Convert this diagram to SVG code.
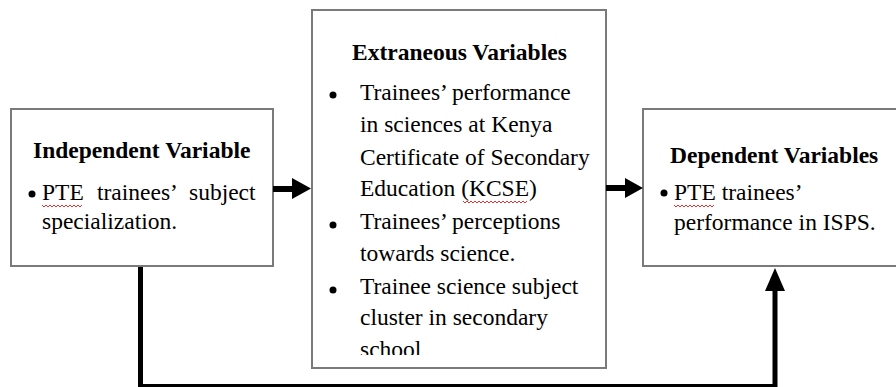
<svg xmlns="http://www.w3.org/2000/svg" width="896" height="387" viewBox="0 0 896 387">
<style>
.box{fill:#fff;stroke:#7a7a7a;stroke-width:2}
.t{font-family:"Liberation Serif","Times New Roman",serif;font-size:23.5px;fill:#000}
.b{font-weight:bold}
.conn{fill:none;stroke:#000;stroke-width:6}
.head{fill:#000}
.sq{fill:none;stroke:#e03030;stroke-width:1}
</style>
<defs>
<clipPath id="midclip"><rect x="312" y="10" width="294" height="345"/></clipPath>
</defs>
<rect x="0" y="0" width="896" height="387" fill="#fff"/>
<g id="independent">
<rect class="box" x="11" y="109" width="262" height="157"/>
<text class="t b" x="33" y="158">Independent Variable</text>
<circle cx="32" cy="194" r="3.5"/>
<text class="t" x="42" y="200">PTE</text>
<text class="t" x="97" y="200">trainees’</text>
<text class="t" x="189" y="200">subject</text>
<text class="t" x="42" y="229">specialization.</text>
<path class="sq" d="M42 205 l2 2 l2 -2 l2 2 l2 -2 l2 2 l2 -2 l2 2 l2 -2 l2 2 l2 -2 l2 2 l2 -2 l2 2 l2 -2 l2 2 l2 -2 l2 2 l2 -2 l2 2 l2 -2"/>
</g>
<g id="extraneous">
<rect class="box" x="312" y="10" width="294" height="358"/>
<text class="t b" x="352" y="60">Extraneous Variables</text>
<circle cx="333" cy="95" r="3.5"/>
<circle cx="333" cy="225" r="3.5"/>
<circle cx="333" cy="290" r="3.5"/>
<g clip-path="url(#midclip)">
<text class="t" x="360" y="100">Trainees’ performance</text>
<text class="t" x="360" y="132">in sciences at Kenya</text>
<text class="t" x="360" y="165">Certificate of Secondary</text>
<text class="t" x="360" y="196">Education (KCSE)</text>
<text class="t" x="360" y="229">Trainees’ perceptions</text>
<text class="t" x="360" y="261">towards science.</text>
<text class="t" x="360" y="294">Trainee science subject</text>
<text class="t" x="360" y="325">cluster in secondary</text>
<text class="t" x="360" y="357">school</text>
</g>
<path class="sq" d="M463 201 l2 2 l2 -2 l2 2 l2 -2 l2 2 l2 -2 l2 2 l2 -2 l2 2 l2 -2 l2 2 l2 -2 l2 2 l2 -2 l2 2 l2 -2 l2 2 l2 -2 l2 2 l2 -2 l2 2 l2 -2 l2 2 l2 -2 l2 2 l2 -2 l2 2 l2 -2 l2 2 l2 -2 l2 2 l2 -2"/>
</g>
<g id="dependent">
<rect class="box" x="643" y="109" width="260" height="157"/>
<text class="t b" x="670" y="163">Dependent Variables</text>
<circle cx="664" cy="193" r="3.5"/>
<text class="t" x="674" y="200">PTE trainees’</text>
<text class="t" x="674" y="230">performance in ISPS.</text>
<path class="sq" d="M674 205 l2 2 l2 -2 l2 2 l2 -2 l2 2 l2 -2 l2 2 l2 -2 l2 2 l2 -2 l2 2 l2 -2 l2 2 l2 -2 l2 2 l2 -2 l2 2 l2 -2 l2 2 l2 -2"/>
</g>
<g id="connectors">
<line class="conn" x1="273" y1="189" x2="293" y2="189"/>
<polygon class="head" points="292,178 311,188.5 292,199"/>
<line class="conn" x1="606" y1="188" x2="626" y2="188"/>
<polygon class="head" points="625,178 643,188 625,198"/>
<polyline class="conn" style="stroke-width:5" points="140.5,267 140.5,386.5 775,386.5 775,288"/>
<polygon class="head" points="765,291 775,268 785,291"/>
</g>
</svg>
